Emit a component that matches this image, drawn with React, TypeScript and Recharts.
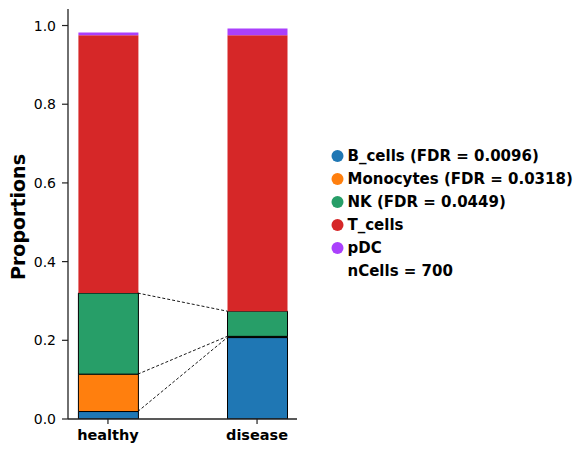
import React from 'react';
import { BarChart, Bar, XAxis, YAxis, ReferenceLine } from 'recharts';

const categories = ['healthy', 'disease'];
const bCells = [0.019, 0.207];
const monocytes = [0.095, 0.003];
const nk = [0.206, 0.064];
const tCells = [0.655, 0.701];
const pdc = [0.007, 0.0175];

const seriesNames = ['B_cells', 'Monocytes', 'NK', 'T_cells', 'pDC'];
const seriesColors = ['#1f77b4', '#ff7f0e', '#279e68', '#d62728', '#aa40fc'];
const legendLabels = [
  'B_cells (FDR = 0.0096)',
  'Monocytes (FDR = 0.0318)',
  'NK (FDR = 0.0449)',
  'T_cells',
  'pDC',
];
const nCellsLabel = 'nCells = 700';
const yTicks = [0, 0.2, 0.4, 0.6, 0.8, 1.0];
const significantCount = 3;

const seriesValues = [bCells, monocytes, nk, tCells, pdc];
const data = categories.map((c, i) => {
  const row: Record<string, number | string> = { x: i, name: c };
  seriesNames.forEach((s, k) => {
    row[s] = seriesValues[k][i];
  });
  return row;
});

const cumulative = (idx: number, cat: number) => {
  let s = 0;
  for (let k = 0; k <= idx; k++) s += seriesValues[k][cat];
  return s;
};

const HALF = 0.2;
const FONT = 'DejaVu Sans';

const YTick = (props: any) => {
  const { x, y, payload } = props;
  return (
    <text x={x} y={y} textAnchor="end" dominantBaseline="central" fontFamily={FONT} fontSize={14} fill="#000">
      {Number(payload.value).toFixed(1)}
    </text>
  );
};

const XTick = (props: any) => {
  const { x, y, payload } = props;
  return (
    <text x={x} y={y} dy={11} textAnchor="middle" fontFamily={FONT} fontWeight="bold" fontSize={14.5} fill="#000">
      {categories[payload.value]}
    </text>
  );
};

export default function App() {
  return (
    <div style={{ position: 'fixed', left: 0, top: 0, width: 587, height: 454, background: '#fff', fontFamily: FONT }}>
      <BarChart
        width={587}
        height={454}
        data={data}
        margin={{ top: 9, right: 290, bottom: 5, left: 8 }}
      >
        <XAxis
          type="number"
          dataKey="x"
          domain={[-0.268, 1.268]}
          ticks={[0, 1]}
          allowDataOverflow
          height={30}
          tickSize={5}
          tickMargin={5}
          tickLine={{ stroke: '#222', strokeWidth: 1.2 }}
          axisLine={{ stroke: '#222', strokeWidth: 1.3 }}
          tick={<XTick />}
        />
        <YAxis
          type="number"
          domain={[0, 1.042]}
          ticks={yTicks}
          allowDataOverflow
          width={60}
          tickSize={6}
          tickMargin={6}
          tickLine={{ stroke: '#222', strokeWidth: 1.2 }}
          axisLine={{ stroke: '#222', strokeWidth: 1.3 }}
          tick={<YTick />}
        />
        {seriesNames.map((s, k) => (
          <Bar
            key={s}
            dataKey={s}
            stackId="a"
            barSize={60}
            fill={seriesColors[k]}
            stroke={k < significantCount ? '#000' : 'none'}
            strokeWidth={k < significantCount ? 1 : 0}
            isAnimationActive={false}
          />
        ))}
        {seriesNames.slice(0, significantCount).map((s, k) => (
          <ReferenceLine
            key={'l' + s}
            segment={[
              { x: 0 + HALF, y: cumulative(k, 0) },
              { x: 1 - HALF, y: cumulative(k, 1) },
            ]}
            stroke="#000"
            strokeWidth={0.9}
            strokeDasharray="3 2"
            ifOverflow="visible"
          />
        ))}
      </BarChart>
      <svg width={587} height={454} style={{ position: 'absolute', left: 0, top: 0, pointerEvents: 'none' }}>
        <text
          x={18}
          y={217}
          transform="rotate(-90 18 217)"
          textAnchor="middle"
          dominantBaseline="central"
          fontFamily={FONT}
          fontWeight="bold"
          fontSize={19}
          fill="#000"
        >
          Proportions
        </text>
        {legendLabels.map((l, k) => (
          <g key={l}>
            <circle cx={337.5} cy={156 + k * 23} r={6} fill={seriesColors[k]} />
            <text
              x={347.5}
              y={156 + k * 23}
              dominantBaseline="central"
              fontFamily={FONT}
              fontWeight="bold"
              fontSize={15}
              fill="#000"
            >
              {l}
            </text>
          </g>
        ))}
        <text
          x={347.5}
          y={156 + 5 * 23}
          dominantBaseline="central"
          fontFamily={FONT}
          fontWeight="bold"
          fontSize={15}
          fill="#000"
        >
          {nCellsLabel}
        </text>
      </svg>
    </div>
  );
}
